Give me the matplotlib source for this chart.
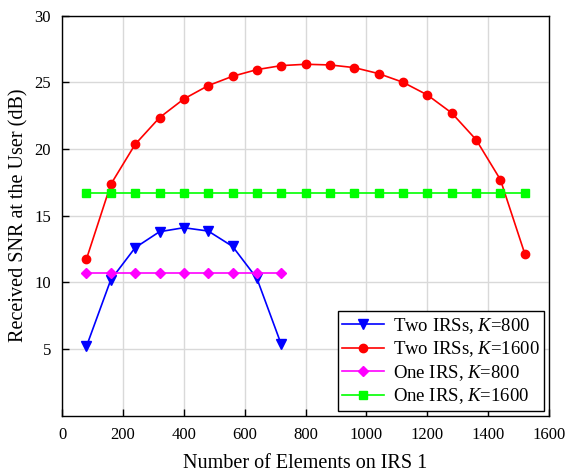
import matplotlib
matplotlib.use("Agg")
import matplotlib.pyplot as plt

x_two_800 = [80, 160, 240, 320, 400, 480, 560, 640, 720]
y_two_800 = [5.2, 10.2, 12.6, 13.8, 14.1, 13.85, 12.7, 10.3, 5.35]
x_two_1600 = [80, 160, 240, 320, 400, 480, 560, 640, 720, 800, 880, 960, 1040,
              1120, 1200, 1280, 1360, 1440, 1520]
y_two_1600 = [11.75, 17.35, 20.35, 22.35, 23.75, 24.75, 25.45, 25.95, 26.25, 26.35,
              26.3, 26.1, 25.65, 25.0, 24.05, 22.7, 20.7, 17.7, 12.15]
x_one_800 = [80, 160, 240, 320, 400, 480, 560, 640, 720]
y_one_800 = [10.7] * 9
x_one_1600 = x_two_1600
y_one_1600 = [16.72] * 19

labels = ["Two IRSs, $\\mathit{K}$=800", "Two IRSs, $\\mathit{K}$=1600",
          "One IRS, $\\mathit{K}$=800", "One IRS, $\\mathit{K}$=1600"]

plt.rcParams['font.family'] = ['Liberation Serif', 'DejaVu Serif']
plt.rcParams['mathtext.fontset'] = 'custom'
plt.rcParams['mathtext.it'] = 'Liberation Serif:italic'
plt.rcParams['mathtext.rm'] = 'Liberation Serif'

fig = plt.figure(figsize=(5.75, 4.72), dpi=100)
ax = fig.add_axes([0.108, 0.119, 0.847, 0.848])

ax.plot(x_two_800, y_two_800, color='#0000ff', marker='v', markersize=7, lw=1.2, label=labels[0], zorder=3)
ax.plot(x_two_1600, y_two_1600, color='#ff0000', marker='o', markersize=6, lw=1.2, label=labels[1], zorder=3)
ax.plot(x_one_800, y_one_800, color='#ff00ff', marker='D', markersize=5, lw=1.2, label=labels[2], zorder=3)
ax.plot(x_one_1600, y_one_1600, color='#00ff00', marker='s', markersize=6, lw=1.2, label=labels[3], zorder=3)

ax.set_xlim(0, 1600)
ax.set_ylim(0, 30)
ax.set_xticks(range(0, 1601, 200))
ax.set_yticks([5, 10, 15, 20, 25, 30])
ax.grid(True, color='#d9d9d9', lw=1.0)
ax.tick_params(direction='in', length=5, width=1, labelsize=12, pad=8)
for s in ax.spines.values():
    s.set_linewidth(1.0)

ax.set_xlabel('Number of Elements on IRS 1', fontsize=14.5, labelpad=8)
ax.set_ylabel('Received SNR at the User (dB)', fontsize=14.5, labelpad=4)

leg = ax.legend(loc='lower right', fontsize=13.5, frameon=True, fancybox=False,
                edgecolor='black', framealpha=1, handlelength=2.2, borderpad=0.25,
                labelspacing=0.2, borderaxespad=0.25, handletextpad=0.5)
leg.get_frame().set_linewidth(1.0)

fig.savefig('out.png', dpi=100)
